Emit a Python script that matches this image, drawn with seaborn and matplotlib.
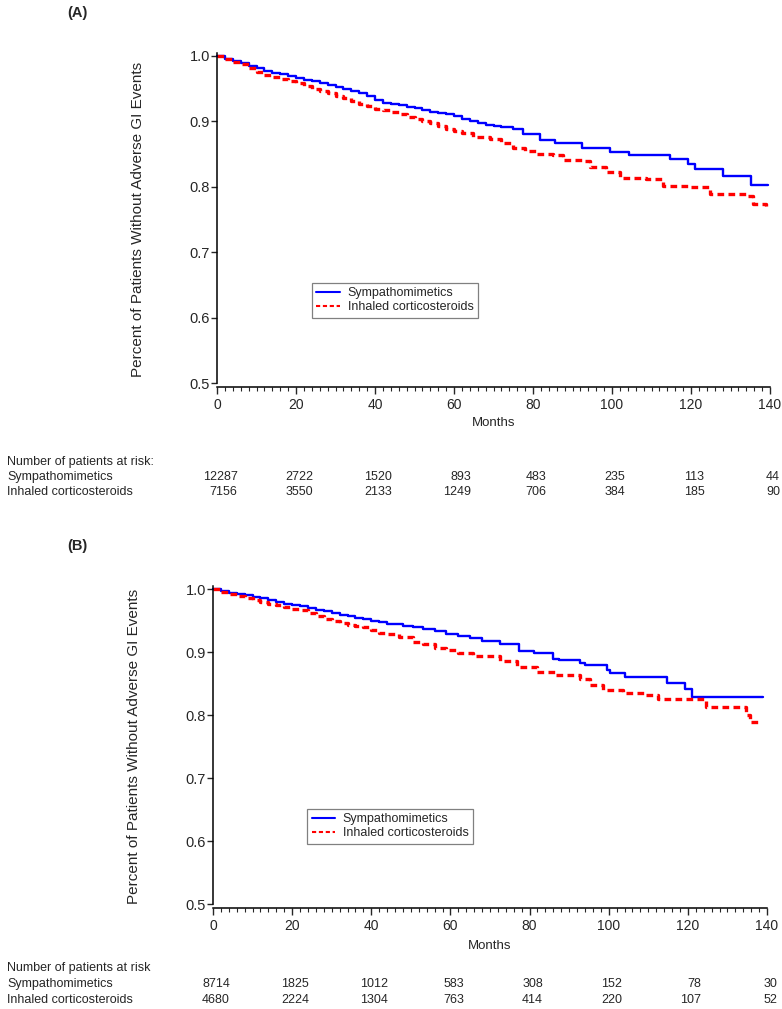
import numpy as np
import pandas as pd
import matplotlib
matplotlib.use('Agg')
import matplotlib.pyplot as plt
import matplotlib.transforms as mtransforms
from matplotlib.ticker import MultipleLocator, FormatStrFormatter
import seaborn as sns

# Données (mois, survie)
groups = ['Sympathomimetics', 'Inhaled corticosteroids']

a_symp_t = [0, 2, 4, 6, 8, 10, 12, 14, 16, 18, 20, 22, 24, 26, 28, 30, 32, 34, 36, 38,
            40, 42, 44, 46, 48, 50, 52, 54, 56, 58, 60, 62, 64, 66, 68, 70, 72, 75,
            77.5, 81.8, 85.5, 92.3, 99.5, 104.2, 114.8, 119.2, 121, 128.1, 135.3, 139.4]
a_symp_s = [1.0, 0.996, 0.993, 0.989, 0.985, 0.981, 0.977, 0.974, 0.972, 0.969, 0.966,
            0.963, 0.961, 0.958, 0.955, 0.952, 0.949, 0.947, 0.944, 0.939, 0.933, 0.928,
            0.927, 0.925, 0.922, 0.920, 0.917, 0.915, 0.913, 0.911, 0.908, 0.904, 0.901,
            0.898, 0.895, 0.893, 0.891, 0.889, 0.880, 0.872, 0.867, 0.860, 0.853, 0.849,
            0.842, 0.835, 0.827, 0.817, 0.803, 0.803]

a_ics_t = [0, 2, 4, 6, 8, 10, 12, 14, 16, 18, 20, 22, 24, 26, 28, 30, 32, 34, 36, 38,
           40, 42, 44, 46, 48, 50, 52, 54, 56, 58, 60, 62, 64.8, 69, 72, 75, 78, 80.8,
           85, 87.6, 92.7, 94.4, 98.6, 102, 108.7, 113, 119.7, 124.8, 134.1, 135.8, 138.9]
a_ics_s = [1.0, 0.995, 0.991, 0.987, 0.982, 0.976, 0.971, 0.968, 0.965, 0.961, 0.958,
           0.954, 0.950, 0.947, 0.943, 0.939, 0.935, 0.931, 0.927, 0.923, 0.919, 0.917,
           0.914, 0.912, 0.907, 0.903, 0.900, 0.897, 0.893, 0.889, 0.886, 0.882, 0.876,
           0.873, 0.867, 0.860, 0.855, 0.850, 0.848, 0.841, 0.839, 0.830, 0.822, 0.814,
           0.812, 0.802, 0.799, 0.789, 0.786, 0.774, 0.771]

b_symp_t = [0, 2, 4, 6, 8, 10, 12, 14, 16, 18, 20, 22, 24, 26, 28, 30, 32, 34, 36, 38,
            40, 42, 44, 46.4, 48, 50.6, 53, 56, 59, 62, 64.9, 68, 72.5, 77.4, 81, 85.9,
            87.4, 92.7, 94.1, 99.6, 100.4, 104.2, 114.7, 119.4, 121, 139.1]
b_symp_s = [1.0, 0.997, 0.994, 0.992, 0.990, 0.987, 0.985, 0.983, 0.980, 0.977, 0.975,
            0.973, 0.970, 0.967, 0.965, 0.962, 0.959, 0.957, 0.954, 0.952, 0.950, 0.947,
            0.945, 0.944, 0.941, 0.939, 0.936, 0.933, 0.929, 0.926, 0.922, 0.918, 0.913,
            0.902, 0.898, 0.889, 0.887, 0.882, 0.879, 0.871, 0.867, 0.861, 0.851, 0.841,
            0.829, 0.829]

b_ics_t = [0, 2, 4, 6, 8, 10, 12, 14, 16, 18, 20, 22, 24, 26, 28, 30, 32, 34, 36, 38,
           40, 42, 44, 47, 50.6, 53, 56, 59, 62, 65.8, 72.5, 76.7, 81.8, 86.7, 92.7,
           95.2, 98.6, 103.6, 109.5, 112.5, 124.5, 134.6, 135.6, 137.6]
b_ics_s = [1.0, 0.996, 0.992, 0.989, 0.986, 0.982, 0.979, 0.977, 0.974, 0.971, 0.968,
           0.966, 0.962, 0.957, 0.953, 0.949, 0.946, 0.943, 0.941, 0.939, 0.935, 0.931,
           0.928, 0.924, 0.916, 0.912, 0.907, 0.903, 0.898, 0.893, 0.885, 0.877, 0.869,
           0.863, 0.858, 0.848, 0.840, 0.835, 0.832, 0.825, 0.813, 0.800, 0.789, 0.789]

risk_times = [0, 20, 40, 60, 80, 100, 120, 140]
a_risk_symp = [12287, 2722, 1520, 893, 483, 235, 113, 44]
a_risk_ics = [7156, 3550, 2133, 1249, 706, 384, 185, 90]
b_risk_symp = [8714, 1825, 1012, 583, 308, 152, 78, 30]
b_risk_ics = [4680, 2224, 1304, 763, 414, 220, 107, 52]

###########################################################

W, H = 782, 1009
sns.set_style('ticks')
plt.rcParams['font.family'] = ['Liberation Sans', 'DejaVu Sans']
NARROW = ['Liberation Sans Narrow', 'Liberation Sans']


def fy(px):
    return 1 - px / H


def panel(rect, symp_t, symp_s, ics_t, ics_s, risk_symp, risk_ics, letter,
          y_letter, y_months, y_rows, legend_anchor, risk_title):
    ax = fig.add_axes(rect)
    df = pd.concat([
        pd.DataFrame({'mois': symp_t, 'survie': symp_s, 'groupe': groups[0]}),
        pd.DataFrame({'mois': ics_t, 'survie': ics_s, 'groupe': groups[1]}),
    ])
    sns.lineplot(data=df, x='mois', y='survie', hue='groupe', style='groupe',
                 palette={groups[0]: '#0000ff', groups[1]: '#ff0000'},
                 dashes={groups[0]: '', groups[1]: (2.0, 1.3)},
                 estimator=None, drawstyle='steps-post', ax=ax, clip_on=False)
    for line, lw in zip(ax.lines, [1.7, 2.4]):
        line.set_linewidth(lw)

    ax.set_xlim(0, 140)
    ax.set_ylim(0.494, 1.005)
    ax.spines['top'].set_visible(False)
    ax.spines['right'].set_visible(False)
    ax.spines['left'].set_bounds(0.5, 1.005)
    ax.spines['bottom'].set_bounds(0, 140)
    for sp in ['left', 'bottom']:
        ax.spines[sp].set_linewidth(1.1)
        ax.spines[sp].set_color('black')

    ax.xaxis.set_major_locator(MultipleLocator(20))
    ax.xaxis.set_minor_locator(MultipleLocator(2))
    ax.yaxis.set_major_locator(MultipleLocator(0.1))
    ax.yaxis.set_major_formatter(FormatStrFormatter('%.1f'))
    ax.tick_params(axis='x', which='major', length=5, width=1, pad=3, labelsize=10)
    ax.tick_params(axis='x', which='minor', length=3, width=0.8)
    ax.tick_params(axis='y', which='major', length=4, width=1, pad=1, labelsize=10.5)
    for lab in ax.get_xticklabels():
        lab.set_family(NARROW)

    ax.set_xlabel('')
    ax.set_ylabel('Percent of Patients Without Adverse GI Events', fontsize=11)
    ax.yaxis.set_label_coords(-0.13, 0.5)

    handles, labels = ax.get_legend_handles_labels()
    leg = ax.legend(handles, labels, loc='upper left', bbox_to_anchor=legend_anchor,
                    frameon=True, fancybox=False, framealpha=1, edgecolor='#808080',
                    fontsize=9, handlelength=1.9, handletextpad=0.6,
                    labelspacing=0.15, borderpad=0.35, borderaxespad=0)
    leg.get_frame().set_linewidth(0.9)

    # Titre du panneau et axe des x
    fig.text(67 / W, fy(y_letter), letter, fontsize=10.5, fontweight='bold',
             va='center', ha='left')
    xc = (rect[0] + rect[2] / 2)
    fig.text(xc, fy(y_months), 'Months', fontsize=9.5, family=NARROW,
             ha='center', va='center')

    # Tableau des patients à risque
    fig.text(7 / W, fy(y_rows[0]), risk_title, fontsize=9, va='center')
    fig.text(7 / W, fy(y_rows[1]), groups[0], fontsize=9, va='center')
    fig.text(7 / W, fy(y_rows[2]), groups[1], fontsize=9, va='center')
    trans = mtransforms.blended_transform_factory(ax.transData, fig.transFigure)
    for t, n1, n2 in zip(risk_times, risk_symp, risk_ics):
        ndig = max(len(str(n1)), len(str(n2)))
        off = mtransforms.ScaledTranslation((3.5 * ndig + 3) / 100, 0, fig.dpi_scale_trans)
        for n, yy in [(n1, y_rows[1]), (n2, y_rows[2])]:
            fig.text(t, fy(yy), str(n), fontsize=9, ha='right', va='center',
                     transform=trans + off)
    return ax


fig = plt.figure(figsize=(W / 100, H / 100), dpi=100)

panel([217 / W, fy(387), 553 / W, (387 - 52.7) / H],
      a_symp_t, a_symp_s, a_ics_t, a_ics_s, a_risk_symp, a_risk_ics,
      '(A)', 13, 423, (462, 477, 492), (0.172, 0.311),
      'Number of patients at risk:')

panel([213 / W, fy(907.8), 554 / W, (907.8 - 585.9) / H],
      b_symp_t, b_symp_s, b_ics_t, b_ics_s, b_risk_symp, b_risk_ics,
      '(B)', 546, 946, (968, 984, 1000), (0.170, 0.307),
      'Number of patients at risk')

fig.savefig('out.png', dpi=100)
